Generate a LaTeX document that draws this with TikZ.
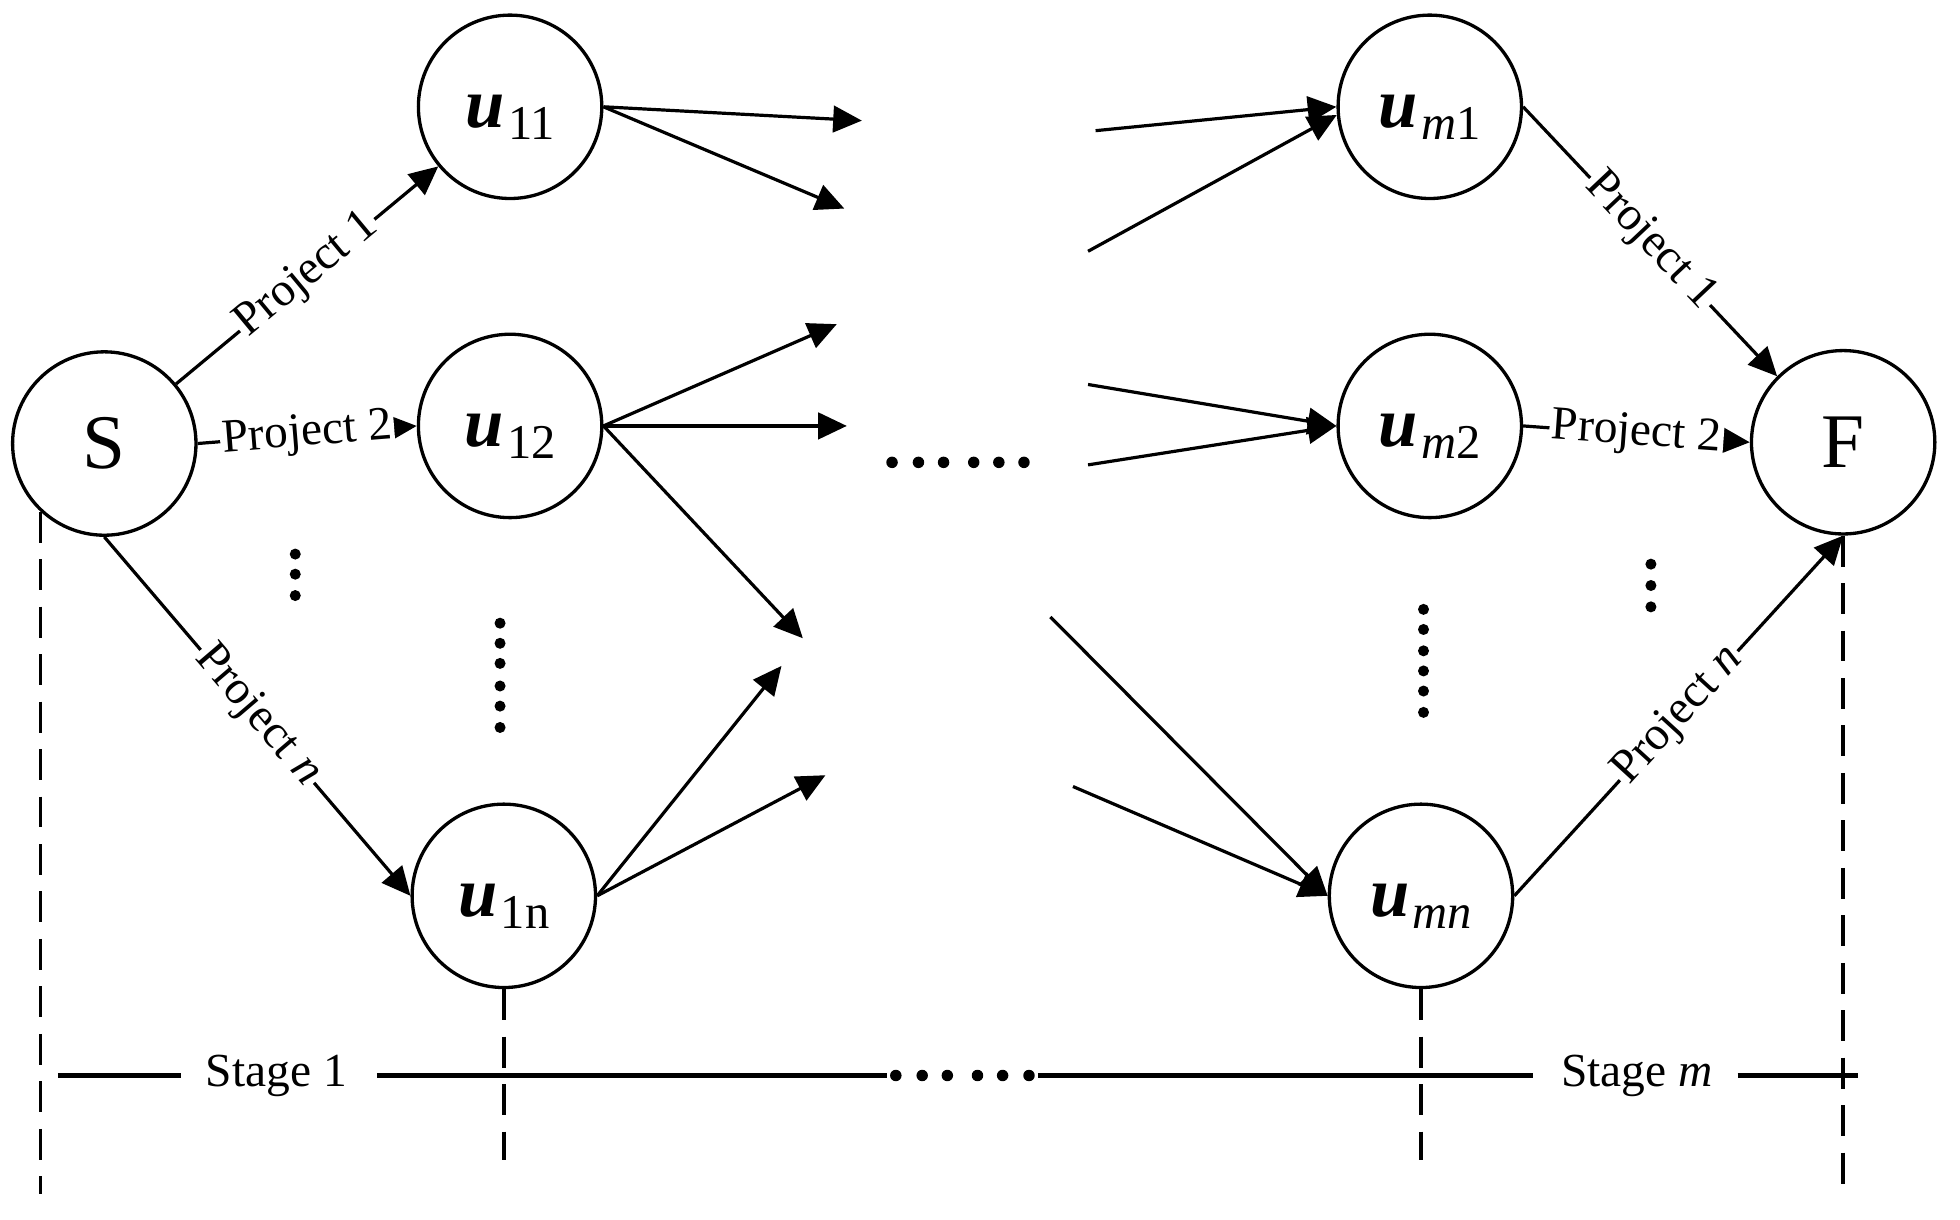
\documentclass[tikz,border=0pt]{standalone}
\usepackage{fontspec}
\setmainfont{Liberation Serif}
\usetikzlibrary{arrows.meta}
\newcommand{\ulab}[1]{\rule{0pt}{24pt}{\fontsize{32}{32}\selectfont\bfseries\itshape u}\kern1.5pt\raisebox{-5.4pt}{\fontsize{22}{22}\selectfont #1}}
\tikzset{
  stnode/.style={draw, circle, minimum size=2.92cm, inner sep=0pt, line width=1.5pt},
  arr/.style={line width=1.45pt, -{Triangle[length=13pt,width=12pt]}},
  lbl/.style={fill=white, inner sep=1pt, font=\fontsize{21.5}{21.5}\selectfont, sloped},
  dashv/.style={line width=1.7pt, dash pattern=on 14pt off 7.5pt},
  stline/.style={line width=1.9pt},
  bigl/.style={font=\fontsize{35}{35}\selectfont},
}
\begin{document}
\begin{tikzpicture}[x=0.02cm, y=-0.02cm]
\useasboundingbox (0,0) rectangle (1560,971);
% nodes
\node[stnode, bigl] (S) at (83,353) {S};
\node[stnode] (u11) at (406,85) {\ulab{11}};
\node[stnode] (u12) at (406,339) {\ulab{12}};
\node[stnode] (u1n) at (401,713) {\ulab{1n}};
\node[stnode] (um1) at (1138,85) {\ulab{\itshape m\upshape 1}};
\node[stnode] (um2) at (1138,339) {\ulab{\itshape m\upshape 2}};
\node[stnode] (umn) at (1131,713) {\ulab{\itshape mn}};
\node[stnode, bigl] (F) at (1467,352) {F};
% free ends
\coordinate (a1) at (686,96);
\coordinate (a2) at (672,166);
\coordinate (b1) at (666,258);
\coordinate (b2) at (674,339);
\coordinate (b3) at (639,508);
\coordinate (c1) at (622,530);
\coordinate (c2) at (657,617);
\coordinate (d1) at (872,104);
\coordinate (d2) at (866,200);
\coordinate (e1) at (866,306);
\coordinate (e2) at (866,370);
\coordinate (f1) at (836,491);
\coordinate (f2) at (854,626);
% project arrows
\draw[arr] (S) -- node[lbl] {Project 1} (u11);
\draw[arr] (S.east) -- node[lbl] {Project 2} (u12.west);
\draw[arr] (S.south) -- node[lbl] {Project \textit{n}} (u1n.west);
\draw[arr] (um1.east) -- node[lbl] {Project 1} (F.135);
\draw[arr] (um2.east) -- node[lbl] {Project 2} (F.west);
\draw[arr] (umn.east) -- node[lbl] {Project \textit{n}} (F.south);
% stage 1 outgoing
\draw[arr] (u11.east) -- (a1);
\draw[arr] (u11.east) -- (a2);
\draw[arr] (u12.east) -- (b1);
\draw[arr] (u12.east) -- (b2);
\draw[arr] (u12.east) -- (b3);
\draw[arr] (u1n.east) -- (c1);
\draw[arr] (u1n.east) -- (c2);
% stage m incoming
\draw[arr] (d1) -- (um1.west);
\draw[arr] (d2) -- (um1.185);
\draw[arr] (e1) -- (um2.west);
\draw[arr] (e2) -- (um2.west);
\draw[arr] (f1) -- (umn.west);
\draw[arr] (f2) -- (umn.west);
% dots
\foreach \x in {710,731,751,775,795,815} \fill (\x,368) circle[radius=2.6pt];
\foreach \y in {441,457,474} \fill (235,\y) circle[radius=2.5pt];
\foreach \y in {496,512,528,546,562,579} \fill (398,\y) circle[radius=2.5pt];
\foreach \y in {485,501,518,534,550,567} \fill (1133,\y) circle[radius=2.5pt];
\foreach \y in {449,466,483} \fill (1314,\y) circle[radius=2.5pt];
% dashed verticals
\draw[dashv] (S.-133) -- ++(0,543);
\draw[dashv] (u1n.south) -- ++(0,136);
\draw[dashv] (umn.south) -- ++(0,136);
\draw[dashv] (F.south) -- ++(0,516);
% stage line
\node[font=\fontsize{21.5}{21.5}\selectfont, inner sep=0pt] (st1) at (220,856) {Stage 1};
\node[font=\fontsize{21.5}{21.5}\selectfont, inner sep=0pt] (stm) at (1303,856) {Stage \textit{m}};
\coordinate (l0) at (46,856);
\coordinate (l1) at (144,856);
\coordinate (l2) at (300,856);
\coordinate (l3) at (706,856);
\coordinate (l4) at (826,856);
\coordinate (l5) at (1220,856);
\coordinate (l6) at (1383,856);
\coordinate (l7) at (1479,856);
\draw[stline] (l0) -- (l1);
\draw[stline] (l2) -- (l3);
\draw[stline] (l4) -- (l5);
\draw[stline] (l6) -- (l7);
\foreach \x in {713,734,754,778,798,819} \fill (\x,856) circle[radius=2.6pt];
\end{tikzpicture}
\end{document}
